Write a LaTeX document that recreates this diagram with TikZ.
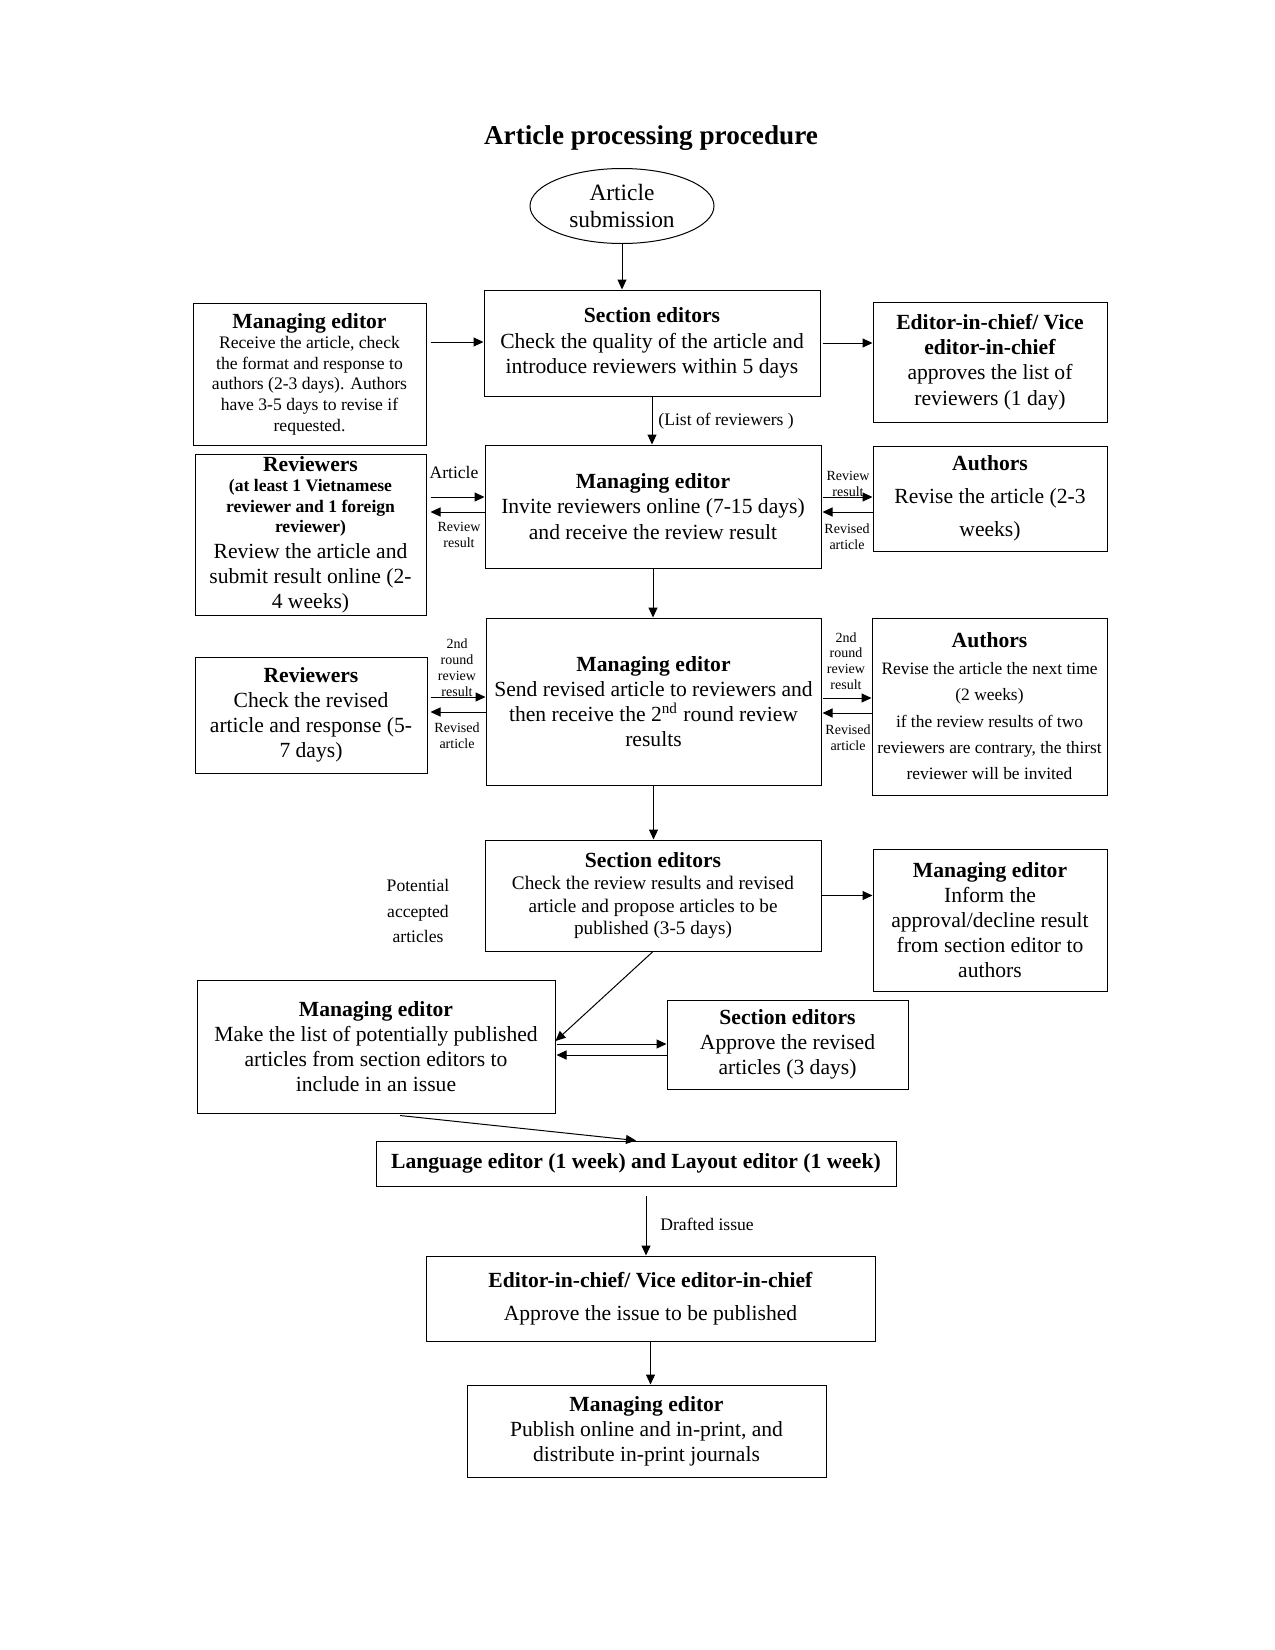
\documentclass[tikz,border=0pt]{standalone}
\usepackage{fontspec}
\setmainfont{Liberation Serif}
\usepackage{tikz}
\usetikzlibrary{arrows.meta,positioning,calc,shapes.geometric}
\setlength{\parindent}{0pt}
\newcommand{\mainsz}{\fontsize{10.8}{12.6}\selectfont}
\newcommand{\smallsz}{\fontsize{8.8}{10.3}\selectfont}
\newcommand{\tagsz}{\fontsize{7}{8.2}\selectfont}
\tikzset{
  box/.style={rectangle, draw=black, line width=0.5pt, align=flush center, inner sep=0pt, font=\mainsz},
  oval/.style={ellipse, draw=black, line width=0.5pt, align=center, inner sep=0pt,
    minimum width=92pt, minimum height=37.5pt, font=\fontsize{11.7}{13.7}\selectfont},
  annot/.style={align=center, inner sep=0pt, font=\smallsz},
  tag/.style={align=center, inner sep=0pt, font=\tagsz},
  flow/.style={-{Triangle[length=5pt,width=4.5pt]}, line width=0.5pt},
}
\begin{document}
\begin{tikzpicture}[x=0.5pt, y=-0.5pt]
  \path[use as bounding box, fill=white] (0,0) rectangle (1275,1650);
  \node[font=\fontsize{13.6}{16}\selectfont\bfseries] (title) at (651,138) {Article processing procedure};
  \node[oval] (sub) at (622,206) {Article\\submission};
  \node[box, text width=168pt, minimum height=53pt] (se1) at (652,343) {\textbf{Section editors}\\Check the quality of the article and\\introduce reviewers within 5 days};
  \node[box, text width=116.5pt, minimum height=71pt] (me1) at (309.5,374) {\textbf{Managing editor}\par
    {\smallsz Receive the article, check\\the format and response to\\authors (2-3 days). Authors\\have 3-5 days to revise if\\requested.\par}};
  \node[box, text width=117pt, minimum height=60pt] (eic1) at (990,362) {\textbf{Editor-in-chief/ Vice\\editor-in-chief}\\approves the list of\\reviewers (1 day)};
  \node[box, text width=168pt, minimum height=61.5pt] (me2) at (653,506.5) {\textbf{Managing editor}\\Invite reviewers online (7-15 days)\\and receive the review result};
  \node[box, text width=115.5pt, minimum height=80.5pt] (rev1) at (310.5,534.5) {\textbf{Reviewers}\par
    {\smallsz\bfseries (at least 1 Vietnamese\\reviewer and 1 foreign\\reviewer)\par}Review the article and\\submit result online (2-\\4 weeks)};
  \node[box, text width=117pt, minimum height=52.5pt, font=\fontsize{10.8}{16.5}\selectfont] (au1) at (990,498.5) {\textbf{Authors}\\Revise the article (2-3\\weeks)};
  \node[box, text width=167.5pt, minimum height=83.5pt] (me3) at (653.5,701.5) {\textbf{Managing editor}\\Send revised article to reviewers and\\then receive the 2\textsuperscript{nd} round review\\results};
  \node[box, text width=116pt, minimum height=58pt] (rev2) at (311,715) {\textbf{Reviewers}\\Check the revised\\article and response (5-\\7 days)};
  \node[box, text width=117.5pt, minimum height=88.5pt] (au2) at (989.5,706.5) {\textbf{Authors}\par
    {\fontsize{8.7}{13.2}\selectfont Revise the article the next time\\(2 weeks)\\if the review results of two\\reviewers are contrary, the thirst\\reviewer will be invited\par}};
  \node[box, text width=168pt, minimum height=55.5pt] (se2) at (653,895.5) {\textbf{Section editors}\par
    {\fontsize{9.6}{11.3}\selectfont Check the review results and revised\\article and propose articles to be\\published (3-5 days)\par}};
  \node[box, text width=117pt, minimum height=71pt] (me4) at (990,920) {\textbf{Managing editor}\\Inform the\\approval/decline result\\from section editor to\\authors};
  \node[box, text width=179pt, minimum height=66.5pt] (me5) at (376,1046.5) {\textbf{Managing editor}\\Make the list of potentially published\\articles from section editors to\\include in an issue};
  \node[box, text width=120.5pt, minimum height=44.5pt] (se3) at (787.5,1044.5) {\textbf{Section editors}\\Approve the revised\\articles (3 days)};
  \node[box, text width=260pt, minimum height=22.5pt] (lang) at (636,1163.5) {\textbf{Language editor (1 week) and Layout editor (1 week)}};
  \node[box, text width=224.5pt, minimum height=42.5pt, font=\fontsize{10.8}{16.8}\selectfont] (eic2) at (650.5,1298.5) {\textbf{Editor-in-chief/ Vice editor-in-chief}\\Approve the issue to be published};
  \node[box, text width=179.5pt, minimum height=46pt] (me6) at (646.5,1431) {\textbf{Managing editor}\\Publish online and in-print, and\\distribute in-print journals};

  \node[annot, anchor=west] (lst) at (658,421) {(List of reviewers )};
  \node[annot] (art) at (454,472) {Article};
  \node[tag] (rr1) at (459,535) {Review\\result};
  \node[tag] (rr2) at (848,484) {Review\\result};
  \node[tag] (ra1) at (847,537) {Revised\\article};
  \node[tag, font=\fontsize{7}{7.9}\selectfont] (rr3) at (457,667.5) {2nd\\round\\review\\result};
  \node[tag] (ra2) at (457,735.5) {Revised\\article};
  \node[tag, font=\fontsize{7}{7.9}\selectfont] (rr4) at (846,661) {2nd\\round\\review\\result};
  \node[tag] (ra3) at (848,737.5) {Revised\\article};
  \node[annot, font=\fontsize{8.8}{12.9}\selectfont] (pot) at (418,911) {Potential\\accepted\\articles};
  \node[annot, anchor=west] (drf) at (660,1224) {Drafted issue};

  \draw[flow] (sub.south) -- (sub.south |- se1.north);
  \draw[flow] ($(me1.east |- se1.west)+(4,-1)$) -- ($(se1.west)+(0,-1)$);
  \draw[flow] ($(se1.east)+(2,0)$) -- (se1.east -| eic1.west);
  \draw[flow] (se1.south) -- (se1.south |- me2.north);
  \draw[flow] ($(rev1.east |- me2.west)+(4,-9.5)$) -- ($(me2.west)+(0,-9.5)$);
  \draw[flow] ($(me2.west)+(0,5.5)$) -- ($(rev1.east |- me2.west)+(4,5.5)$);
  \draw[flow] ($(me2.east)+(1,-9.5)$) -- ($(me2.east -| au1.west)+(0,-9.5)$);
  \draw[flow] ($(me2.east -| au1.west)+(0,5.5)$) -- ($(me2.east)+(1,5.5)$);
  \draw[flow] (me2.south) -- (me2.south |- me3.north);
  \draw[flow] ($(rev2.east |- me3.west)+(3,-4.5)$) -- ($(me3.west)+(0,-4.5)$);
  \draw[flow] ($(me3.west)+(0,10.5)$) -- ($(rev2.east |- me3.west)+(3,10.5)$);
  \draw[flow] ($(me3.east)+(1,-3.5)$) -- ($(me3.east -| au2.west)+(0,-3.5)$);
  \draw[flow] ($(me3.east -| au2.west)+(0,11.5)$) -- ($(me3.east)+(1,11.5)$);
  \draw[flow] (me3.south) -- (me3.south |- se2.north);
  \draw[flow] (se2.east) -- (se2.east -| me4.west);
  \draw[flow] (se2.south) -- ($(me5.east)+(0,-5.5)$);
  \draw[flow] ($(me5.east)+(1,-2.5)$) -- ($(me5.east -| se3.west)+(0,-2.5)$);
  \draw[flow] ($(me5.east -| se3.west)+(0,8.5)$) -- ($(me5.east)+(1,8.5)$);
  \draw[flow] ($(me5.south)+(24,2)$) -- (lang.north);
  \coordinate (dr) at ($(lang.south)+(10,9)$);
  \draw[flow] (dr) -- (dr |- eic2.north);
  \draw[flow] (eic2.south) -- (eic2.south |- me6.north);
\end{tikzpicture}
\end{document}
